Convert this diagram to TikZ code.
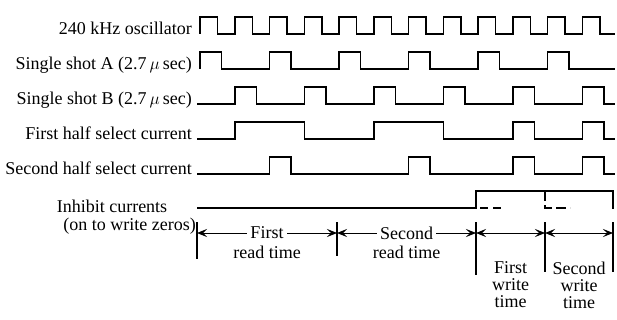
\documentclass[tikz,border=0pt]{standalone}
\usepackage{amsmath}
\usepackage{fontspec}
\setmainfont{Liberation Serif}
\usetikzlibrary{arrows.meta,positioning}

\tikzset{
  wave/.style={line width=1.5pt, line join=miter},
  txt/.style={inner sep=0pt, font=\fontsize{18}{17}\selectfont},
  sig/.style={txt, anchor=base east},
  bound/.style={line width=1.1pt},
  span/.style={line width=0.9pt, {Stealth[length=10pt,width=8pt,inset=4pt]}-{Stealth[length=10pt,width=8pt,inset=4pt]}}
}

\begin{document}
\begin{tikzpicture}[x=1pt,y=-1pt]
        \def \xs {200}
        \def \xe {615}
        \def \per {34.75}
        \def \hw {17.5}
        \def \sw {21.5}
        
        \useasboundingbox (0,0) rectangle (617,320);
        
        \foreach \name/\txt [count=\r from 0] in {osc/240 kHz oscillator, ssa/Single shot A (2.7\,$\mu$\,sec), ssb/Single shot B (2.7\,$\mu$\,sec), fhs/First half select current, shs/Second half select current}{
          \node[sig] (\name) at (192, {35+35*\r}) {\txt};
        }
        \node[txt] (inh) at (112,206) {Inhibit currents};
        \node[txt, anchor=east] (inz) at (196,226) {(on to write zeros)};
        
        % waveforms, one period of the clock is \per
        \draw[wave] (\xs,34) \foreach \k in {0,...,11}{ -- ({\xs+\k*\per},34) -- ({\xs+\k*\per},17) -- ({\xs+\k*\per+\hw},17) -- ({\xs+\k*\per+\hw},34)} -- (\xe,34);
        \draw[wave] (\xs,69) \foreach \k in {0,2,...,10}{ -- ({\xs+\k*\per},69) -- ({\xs+\k*\per},52) -- ({\xs+\k*\per+\sw},52) -- ({\xs+\k*\per+\sw},69)} -- (\xe,69);
        \draw[wave] (197,104) \foreach \k in {1,3,...,11}{ -- ({\xs+\k*\per},104) -- ({\xs+\k*\per},87) -- ({\xs+\k*\per+\sw},87) -- ({\xs+\k*\per+\sw},104)} -- (\xe,104);
        \draw[wave] (197,139) \foreach \a/\b in {1/3, 5/7, 9/9.62, 11/11.62}{ -- ({\xs+\a*\per},139) -- ({\xs+\a*\per},122) -- ({\xs+\b*\per},122) -- ({\xs+\b*\per},139)} -- (\xe,139);
        \draw[wave] (197,174) \foreach \a/\b in {2/2.62, 6/6.62, 9/9.62, 11/11.62}{ -- ({\xs+\a*\per},174) -- ({\xs+\a*\per},157) -- ({\xs+\b*\per},157) -- ({\xs+\b*\per},174)} -- (\xe,174);
        \draw[wave] (197,208) -- (476,208) -- (476,191) -- (613,191) -- (613,209);
        \draw[wave, dash pattern=on 8pt off 5pt] (480,208) -- (504,208);
        \draw[wave, dash pattern=on 10pt off 4pt] (545,191) -- (545,208) -- (570,208);
        
        \foreach \x/\yb [count=\i from 0] in {197/259, 337/256, 476/275, 545/272, 613/272}{
          \draw[bound] (\x,222) -- (\x,\yb);
          \coordinate (t\i) at (\x,233);
        }
        
        \draw[span] (t0) -- (t1) node[midway, txt, fill=white, inner xsep=3pt] (fr) {First};
        \draw[span] (t1) -- (t2) node[midway, txt, fill=white, inner xsep=3pt] (sr) {Second};
        \draw[span] (t2) -- (t3);
        \draw[span] (t3) -- (t4);
        \node[txt, below=6pt of fr] (frt) {read time};
        \node[txt, below=6pt of sr] (srt) {read time};
        \node[txt, align=center] (fw) at (510.5,285) {First\\write\\time};
        \node[txt, align=center] (sw) at (579,285) {Second\\write\\time};
\end{tikzpicture}
\end{document}
